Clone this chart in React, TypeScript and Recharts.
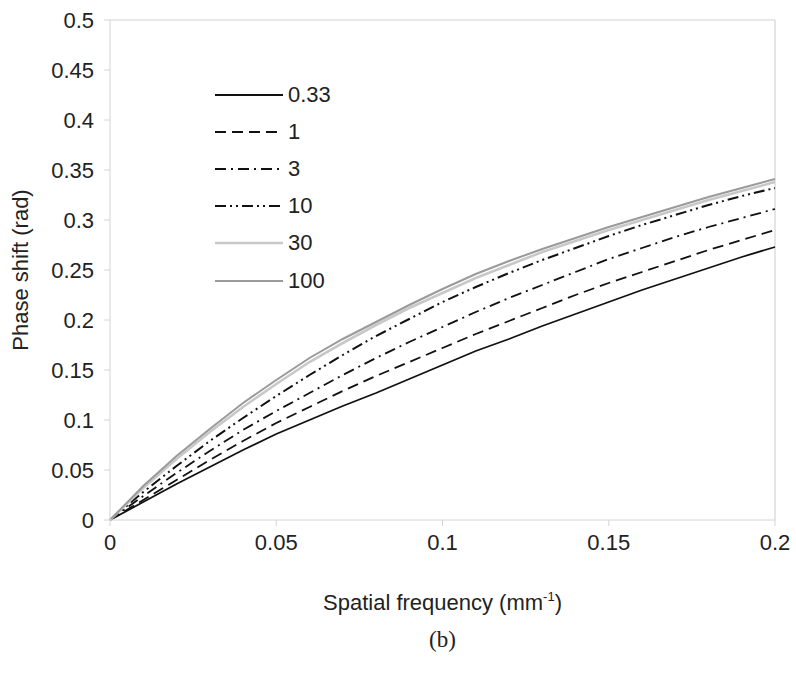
import { LineChart, Line, XAxis, YAxis, ReferenceLine } from "recharts";

// spatial frequency (mm^-1)
const freq = [0, 0.01, 0.02, 0.03, 0.04, 0.05, 0.06, 0.07, 0.08, 0.09, 0.1, 0.11, 0.12, 0.13, 0.14, 0.15, 0.16, 0.17, 0.18, 0.19, 0.2];

// phase shift (rad) per curve
const s033 = [0, 0.018, 0.036, 0.053, 0.07, 0.086, 0.1, 0.114, 0.127, 0.141, 0.155, 0.169, 0.181, 0.194, 0.206, 0.218, 0.23, 0.241, 0.252, 0.263, 0.273];
const s1 = [0, 0.02, 0.04, 0.06, 0.079, 0.097, 0.113, 0.129, 0.144, 0.158, 0.172, 0.186, 0.199, 0.212, 0.225, 0.237, 0.248, 0.259, 0.27, 0.28, 0.29];
const s3 = [0, 0.024, 0.047, 0.069, 0.09, 0.109, 0.127, 0.145, 0.162, 0.178, 0.193, 0.208, 0.222, 0.235, 0.248, 0.261, 0.272, 0.283, 0.293, 0.302, 0.311];
const s10 = [0, 0.028, 0.054, 0.079, 0.102, 0.124, 0.145, 0.165, 0.184, 0.201, 0.218, 0.233, 0.247, 0.26, 0.272, 0.284, 0.295, 0.305, 0.315, 0.324, 0.332];
const s30 = [0, 0.032, 0.061, 0.088, 0.113, 0.136, 0.158, 0.177, 0.195, 0.212, 0.227, 0.242, 0.255, 0.268, 0.279, 0.29, 0.3, 0.31, 0.32, 0.329, 0.338];
const s100 = [0, 0.034, 0.064, 0.091, 0.117, 0.14, 0.162, 0.181, 0.198, 0.215, 0.231, 0.246, 0.259, 0.271, 0.282, 0.293, 0.303, 0.313, 0.323, 0.332, 0.341];

const seriesNames = ["0.33", "1", "3", "10", "30", "100"];
const seriesValues = [s033, s1, s3, s10, s30, s100];

const xTicks = [0, 0.05, 0.1, 0.15, 0.2];
const yTicks = [0, 0.05, 0.1, 0.15, 0.2, 0.25, 0.3, 0.35, 0.4, 0.45, 0.5];

const styles = [
  { color: "#111", width: 1.8, dash: undefined },
  { color: "#111", width: 1.8, dash: "11 6" },
  { color: "#111", width: 1.8, dash: "11 5 2 5" },
  { color: "#111", width: 2, dash: "11 4 2 4 2 4" },
  { color: "#c8c8c8", width: 2.6, dash: undefined },
  { color: "#9a9a9a", width: 2, dash: undefined },
];

const data = freq.map((f, i) => {
  const row: Record<string, number> = { f };
  seriesNames.forEach((n, k) => {
    row["s" + k] = seriesValues[k][i];
  });
  return row;
});

const FONT = "'Liberation Sans', Arial, sans-serif";
const AXIS = "#d4d4d4";

function LegendBox() {
  return (
    <div style={{ position: "absolute", left: 215, top: 76, fontFamily: FONT, fontSize: 22, color: "#222" }}>
      {seriesNames.map((n, k) => (
        <div key={n} style={{ display: "flex", alignItems: "center", height: 37.2 }}>
          <svg width={68} height={10} style={{ marginRight: 5 }}>
            <line
              x1={0}
              y1={5}
              x2={68}
              y2={5}
              stroke={styles[k].color}
              strokeWidth={styles[k].width}
              strokeDasharray={styles[k].dash}
            />
          </svg>
          <span>{n}</span>
        </div>
      ))}
    </div>
  );
}

function XLabel(props: any) {
  const { viewBox } = props;
  const cx = viewBox.x + viewBox.width / 2;
  return (
    <g>
      <text x={cx} y={viewBox.y + 90} textAnchor="middle" fontFamily={FONT} fontSize={22} fill="#222">
        Spatial frequency (mm
        <tspan dy={-9} fontSize={13}>-1</tspan>
        <tspan dy={9}>)</tspan>
      </text>
      <text x={cx} y={viewBox.y + 127} textAnchor="middle" fontFamily="'Liberation Serif', 'Times New Roman', serif" fontSize={23} fill="#222">
        (b)
      </text>
    </g>
  );
}

function YLabel(props: any) {
  const { viewBox } = props;
  const cy = viewBox.y + viewBox.height / 2;
  return (
    <text
      x={28}
      y={cy}
      transform={`rotate(-90 28 ${cy})`}
      textAnchor="middle"
      fontFamily={FONT}
      fontSize={22}
      fill="#222"
    >
      Phase shift (rad)
    </text>
  );
}

export default function App() {
  return (
    <div style={{ position: "absolute", left: 0, top: 0, width: 796, height: 681, background: "#fff" }}>
      <LineChart width={796} height={681} data={data} margin={{ top: 20, right: 21, left: 0, bottom: 121 }}>
        <XAxis
          dataKey="f"
          type="number"
          domain={[0, 0.2]}
          ticks={xTicks}
          interval={0}
          tickFormatter={(v) => String(v)}
          height={40}
          stroke={AXIS}
          tickSize={6}
          tickMargin={8}
          tick={{ fill: "#222", fontSize: 22, fontFamily: FONT }}
          label={<XLabel />}
        />
        <YAxis
          type="number"
          domain={[0, 0.5]}
          ticks={yTicks}
          interval={0}
          tickFormatter={(v) => String(v)}
          width={110}
          stroke={AXIS}
          tickSize={6}
          tickMargin={10}
          tick={{ fill: "#222", fontSize: 22, fontFamily: FONT }}
          label={<YLabel />}
        />
        <ReferenceLine y={0.5} stroke={AXIS} strokeWidth={1.2} />
        <ReferenceLine x={0.2} stroke={AXIS} strokeWidth={1.2} />
        {seriesNames.map((n, k) => (
          <Line
            key={n}
            dataKey={"s" + k}
            name={n}
            type="linear"
            stroke={styles[k].color}
            strokeWidth={styles[k].width}
            strokeDasharray={styles[k].dash}
            dot={false}
            isAnimationActive={false}
          />
        ))}
      </LineChart>
      <LegendBox />
    </div>
  );
}
